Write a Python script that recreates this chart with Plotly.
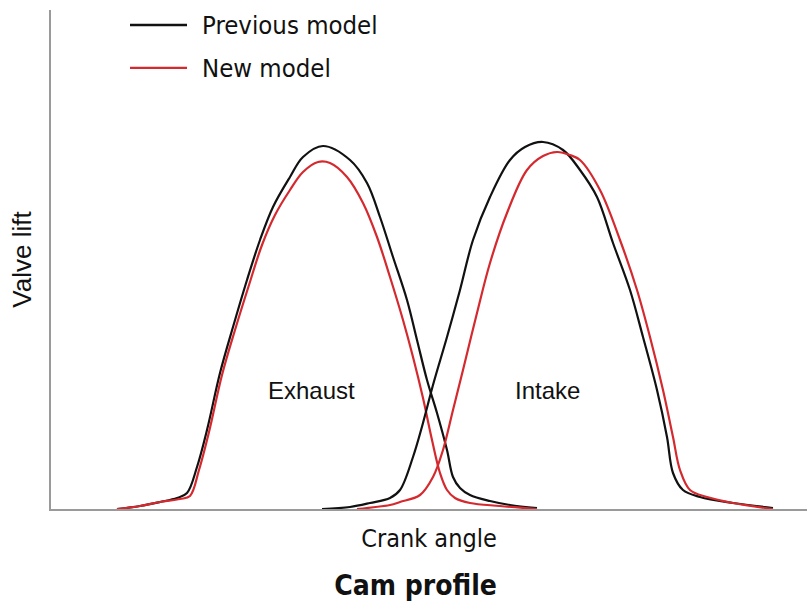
import plotly.graph_objects as go

# Crank angle (arbitrary units) and valve lift (arbitrary units)
prev_exh_x = [117, 140, 160, 177, 187, 197, 207, 220, 233, 247, 260, 273, 290, 303, 323, 350, 367, 380, 393, 407, 417, 427, 437, 447, 453, 460, 470, 490, 510, 537]
prev_exh_y = [0, 3, 7, 11, 16, 42, 79, 136, 182, 229, 269, 302, 332, 352, 363, 349, 326, 292, 252, 209, 169, 129, 96, 59, 32, 21, 14, 8, 4, 1]

new_exh_x = [117, 140, 160, 180, 190, 199, 209, 222, 235, 249, 262, 275, 290, 303, 318, 330, 347, 363, 377, 390, 403, 413, 423, 432, 440, 447, 455, 470, 500, 537]
new_exh_y = [0, 3, 7, 10, 13, 39, 77, 134, 179, 224, 264, 294, 319, 337, 347, 346, 332, 306, 272, 232, 189, 152, 111, 69, 36, 19, 11, 6, 3, 0]

prev_int_x = [322, 350, 370, 390, 400, 413, 423, 433, 447, 460, 473, 490, 510, 525, 543, 563, 580, 597, 613, 630, 643, 657, 667, 673, 683, 700, 733, 773]
prev_int_y = [0, 2, 6, 11, 19, 52, 86, 124, 172, 219, 269, 312, 349, 362, 367, 359, 339, 312, 266, 219, 172, 119, 72, 36, 19, 12, 6, 1]

new_int_x = [357, 390, 400, 420, 433, 443, 453, 463, 477, 490, 507, 527, 543, 557, 570, 580, 600, 620, 637, 650, 663, 673, 680, 690, 707, 733, 773]
new_int_y = [0, 4, 7, 14, 32, 59, 99, 139, 196, 246, 296, 339, 353, 357, 354, 349, 319, 269, 219, 172, 119, 72, 39, 19, 12, 6, 0]

series_names = ["Previous model", "New model"]
series_colors = ["#111111", "#d42a2f"]

labels = ["Exhaust", "Intake"]
label_x = [311, 547]
label_y = [119, 119]

FONT_NARROW = "DejaVu Sans Condensed, Liberation Sans Narrow, sans-serif"
FONT_ARIAL = "Liberation Sans, Arial, sans-serif"

LINE_W = 2.2
SMOOTH = 1.0

fig = go.Figure()
curves = [
    (prev_exh_x, prev_exh_y, 0),
    (new_exh_x, new_exh_y, 1),
    (prev_int_x, prev_int_y, 0),
    (new_int_x, new_int_y, 1),
]
for xs, ys, k in curves:
    fig.add_trace(go.Scatter(x=xs, y=ys, mode="lines", name=series_names[k],
                             line=dict(color=series_colors[k], width=LINE_W,
                                       shape="spline", smoothing=SMOOTH),
                             showlegend=False))

# Legend (line samples + text in paper coordinates)
leg_y = [0.970, 0.884]
for k in range(2):
    fig.add_shape(type="line", xref="paper", yref="paper",
                  x0=0.1045, x1=0.1799, y0=leg_y[k], y1=leg_y[k],
                  line=dict(color=series_colors[k], width=2.4))
    fig.add_annotation(xref="paper", yref="paper", x=0.197, y=leg_y[k],
                       xanchor="left", yanchor="middle", showarrow=False,
                       text=series_names[k],
                       font=dict(family=FONT_NARROW, size=25.5, color="#111111"))

for t, x, y in zip(labels, label_x, label_y):
    fig.add_annotation(x=x, y=y, text=t, showarrow=False,
                       font=dict(family=FONT_ARIAL, size=24, color="#111111"))

fig.update_layout(
    width=807, height=603,
    margin=dict(l=51, r=0, t=10, b=94, autoexpand=False),
    paper_bgcolor="white", plot_bgcolor="white",
    showlegend=False,
    title=dict(text="<b>Cam profile</b>", x=0.515, xanchor="center", y=0.03, yanchor="middle",
               automargin=False,
               font=dict(family=FONT_NARROW, size=28, color="#111111")),
    xaxis=dict(range=[51, 807], showgrid=False, zeroline=False, showticklabels=False, ticks="",
               showline=True, linecolor="#9a9a9a", linewidth=2, automargin=False,
               title=dict(text="Crank angle", standoff=19,
                          font=dict(family=FONT_NARROW, size=25, color="#111111"))),
    yaxis=dict(range=[0, 499], showgrid=False, zeroline=False, showticklabels=False, ticks="",
               showline=True, linecolor="#9a9a9a", linewidth=2, automargin=False,
               title=dict(text="Valve lift", standoff=10,
                          font=dict(family=FONT_ARIAL, size=26, color="#111111"))),
)

fig.write_html("out.html", config={"displayModeBar": False},
               post_script="document.body.style.margin='0';")
